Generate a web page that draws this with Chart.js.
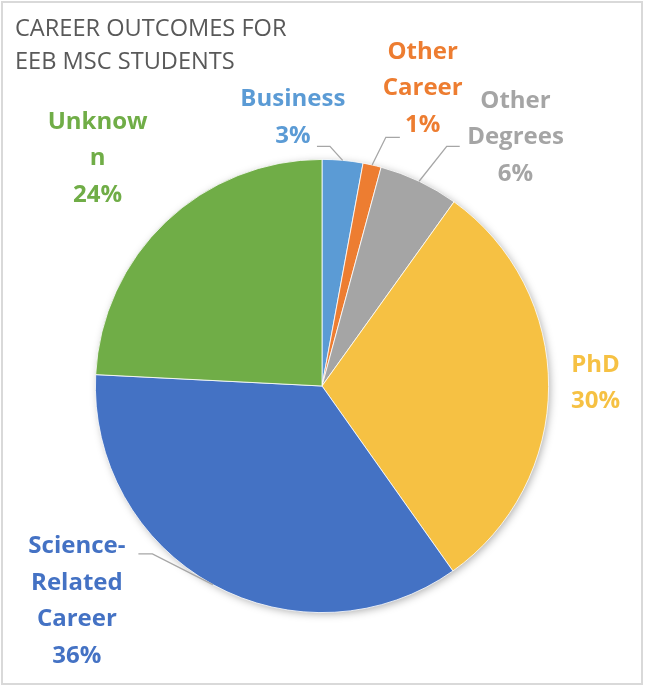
<!DOCTYPE html>
<html>
<head>
<meta charset="utf-8">
<script src="https://cdn.jsdelivr.net/npm/chart.js@4/dist/chart.umd.min.js"></script>
<style>
	html, body { margin: 0; padding: 0; background: #fff; }
	canvas { display: block; }
</style>
</head>
<body>
<canvas id="chart" width="646" height="690"></canvas>
<script>
const titleLines = ['CAREER OUTCOMES FOR', 'EEB MSC STUDENTS'];
const categories = ['Business', 'Other Career', 'Other Degrees', 'PhD', 'Science-Related Career', 'Unknown'];
const shares = [2.9, 1.3, 5.7, 30.3, 35.6, 24.2];
const pctLabels = ['3%', '1%', '6%', '30%', '36%', '24%'];
// how the labels wrap in the picture
const labelLines = [['Business'], ['Other', 'Career'], ['Other', 'Degrees'], ['PhD'], ['Science-', 'Related', 'Career'], ['Unknow', 'n']];
const colors = ['#5B9BD5', '#ED7D31', '#A5A5A5', '#F6C143', '#4472C4', '#70AD47'];

// label block centre: [degrees clockwise from top, distance in radii]
const labelPos = [[-6.2, 1.192], [18.7, 1.386], [37.9, 1.39], [89.4, 1.207], [228.7, 1.44], [315.4, 1.41]];
// leader lines: elbow [degrees, radii], then horizontal run in px
const leaders = [[1.9, 1.058, -13], [14.4, 1.133, 14], [27.5, 1.192, 13], null, [225.3, 1.053, -14], null];

const polar = (cx, cy, r, deg, dist) => {
	const a = deg * Math.PI / 180 - Math.PI / 2;
	return [cx + Math.cos(a) * r * dist, cy + Math.sin(a) * r * dist];
};

const pieDecor = {
	id: 'pieDecor',
	beforeDraw(chart) {
		const ctx = chart.ctx;
		ctx.save();
		ctx.fillStyle = '#fff';
		ctx.fillRect(0, 0, chart.width, chart.height);
		ctx.strokeStyle = '#D9D9D9';
		ctx.lineWidth = 2;
		ctx.strokeRect(2, 2, 640, 682);
		ctx.fillStyle = '#595959';
		ctx.font = '23.6px "Open Sans"';
		ctx.textAlign = 'left';
		ctx.textBaseline = 'alphabetic';
		titleLines.forEach((t, i) => ctx.fillText(t, 15, 36 + i * 33));
		ctx.restore();
	},
	beforeDatasetsDraw(chart) {
		// soft shadow under the whole pie
		const arc = chart.getDatasetMeta(0).data[0];
		const { x, y, outerRadius } = arc.getProps(['x', 'y', 'outerRadius'], true);
		const ctx = chart.ctx;
		ctx.save();
		ctx.shadowColor = 'rgba(0, 0, 0, 0.35)';
		ctx.shadowBlur = 8;
		ctx.shadowOffsetX = 2;
		ctx.shadowOffsetY = 2;
		ctx.fillStyle = '#fff';
		ctx.beginPath();
		ctx.arc(x, y, outerRadius - 1, 0, Math.PI * 2);
		ctx.fill();
		ctx.restore();
	},
	afterDatasetsDraw(chart) {
		const ctx = chart.ctx;
		const meta = chart.getDatasetMeta(0);
		ctx.save();
		meta.data.forEach((arc, i) => {
			const { x, y, startAngle, endAngle, outerRadius } = arc.getProps(['x', 'y', 'startAngle', 'endAngle', 'outerRadius'], true);
			const r = outerRadius;
			const ld = leaders[i];
			if (ld) {
				const mid = (startAngle + endAngle) / 2;
				const [ex, ey] = polar(x, y, r, ld[0], ld[1]);
				ctx.strokeStyle = '#A6A6A6';
				ctx.lineWidth = 1.3;
				ctx.beginPath();
				ctx.moveTo(x + Math.cos(mid) * r, y + Math.sin(mid) * r);
				ctx.lineTo(ex, ey);
				ctx.lineTo(ex + ld[2], ey);
				ctx.stroke();
			}
			const lines = labelLines[i].concat(pctLabels[i]);
			const [lx, ly] = polar(x, y, r, labelPos[i][0], labelPos[i][1]);
			const lh = 36.5;
			ctx.fillStyle = colors[i];
			ctx.font = 'bold 24px "Open Sans"';
			ctx.textAlign = 'center';
			ctx.textBaseline = 'middle';
			lines.forEach((t, k) => ctx.fillText(t, lx, ly - (lines.length - 1) * lh / 2 + k * lh));
		});
		ctx.restore();
	}
};

onload = () => {
	new Chart(document.getElementById('chart'), {
		type: 'pie',
		data: {
			labels: categories,
			datasets: [{
				data: shares,
				backgroundColor: colors,
				borderColor: '#fff',
				borderWidth: 0.8,
				hoverOffset: 0
			}]
		},
		options: {
			responsive: false,
			animation: false,
			events: [],
			layout: { padding: { top: 159, bottom: 77, left: 95, right: 97 } },
			plugins: {
				legend: { display: false },
				tooltip: { enabled: false }
			}
		},
		plugins: [pieDecor]
	});
};
</script>
</body>
</html>
